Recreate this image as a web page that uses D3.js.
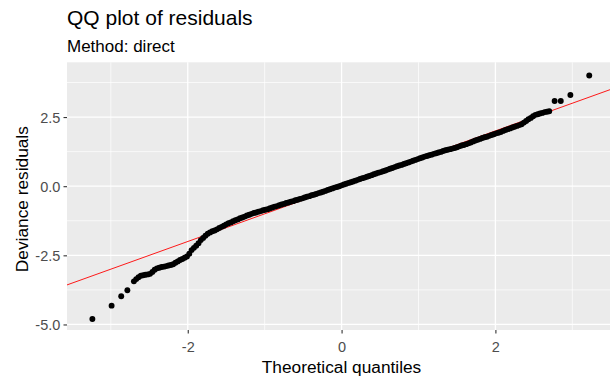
<!DOCTYPE html>
<html>
<head>
<meta charset="utf-8">
<script src="https://cdn.jsdelivr.net/npm/d3@7"></script>
<style>
  body { margin: 0; background: #fff; }
  svg { display: block; font-family: "Liberation Sans", Arial, sans-serif; }
</style>
</head>
<body>
<svg id="chart" width="610" height="383"></svg>
<script>
// Theoretical normal quantiles and the sorted deviance residuals plotted against them
const theoretical = [
  -3.24, -2.99, -2.865, -2.785,
  -2.70, -2.67, -2.64, -2.61, -2.58, -2.55, -2.52, -2.49, -2.46, -2.43,
  -2.40, -2.37, -2.34, -2.31, -2.28, -2.25, -2.22, -2.19, -2.16, -2.13,
  -2.10, -2.07, -2.04, -2.01, -1.98, -1.95, -1.92, -1.89, -1.86, -1.83,
  -1.80, -1.77, -1.74, -1.71, -1.68, -1.65, -1.62, -1.59, -1.56, -1.53,
  -1.50, -1.47, -1.44, -1.41, -1.38, -1.35, -1.32, -1.29, -1.26, -1.23,
  -1.20, -1.17, -1.14, -1.11, -1.08, -1.05, -1.02, -0.99, -0.96, -0.93,
  -0.90, -0.87, -0.84, -0.81, -0.78, -0.75, -0.72, -0.69, -0.66, -0.63,
  -0.60, -0.57, -0.54, -0.51, -0.48, -0.45, -0.42, -0.39, -0.36, -0.33,
  -0.30, -0.27, -0.24, -0.21, -0.18, -0.15, -0.12, -0.09, -0.06, -0.03,
  0.00, 0.03, 0.06, 0.09, 0.12, 0.15, 0.18, 0.21, 0.24, 0.27,
  0.30, 0.33, 0.36, 0.39, 0.42, 0.45, 0.48, 0.51, 0.54, 0.57,
  0.60, 0.63, 0.66, 0.69, 0.72, 0.75, 0.78, 0.81, 0.84, 0.87,
  0.90, 0.93, 0.96, 0.99, 1.02, 1.05, 1.08, 1.11, 1.14, 1.17,
  1.20, 1.23, 1.26, 1.29, 1.32, 1.35, 1.38, 1.41, 1.44, 1.47,
  1.50, 1.53, 1.56, 1.59, 1.62, 1.65, 1.68, 1.71, 1.74, 1.77,
  1.80, 1.83, 1.86, 1.89, 1.92, 1.95, 1.98, 2.01, 2.04, 2.07,
  2.10, 2.13, 2.16, 2.19, 2.22, 2.25, 2.28, 2.31, 2.34, 2.37,
  2.40, 2.43, 2.46, 2.49, 2.52, 2.55, 2.58, 2.61, 2.64, 2.67,
  2.70,
  2.77, 2.85, 2.975, 3.22
];

const residuals = [
  -4.80, -4.32, -3.98, -3.765,
  -3.44, -3.36, -3.29, -3.24, -3.22, -3.20, -3.19, -3.17, -3.10, -3.02,
  -2.97, -2.95, -2.92, -2.91, -2.89, -2.87, -2.85, -2.82, -2.77, -2.72,
  -2.67, -2.63, -2.59, -2.54, -2.44, -2.31, -2.23, -2.15, -2.06, -1.95,
  -1.87, -1.79, -1.72, -1.67, -1.63, -1.60, -1.56, -1.51, -1.47, -1.43,
  -1.38, -1.34, -1.31, -1.27, -1.23, -1.20, -1.16, -1.13, -1.10, -1.06,
  -1.03, -1.00, -0.97, -0.95, -0.92, -0.90, -0.87, -0.85, -0.83, -0.80,
  -0.77, -0.74, -0.72, -0.69, -0.66, -0.64, -0.61, -0.59, -0.56, -0.54,
  -0.51, -0.49, -0.46, -0.44, -0.41, -0.38, -0.36, -0.33, -0.31, -0.28,
  -0.25, -0.23, -0.20, -0.17, -0.14, -0.11, -0.08, -0.05, -0.03, 0.00,
  0.03, 0.06, 0.09, 0.12, 0.14, 0.17, 0.20, 0.23, 0.26, 0.29,
  0.31, 0.34, 0.37, 0.40, 0.43, 0.46, 0.49, 0.51, 0.54, 0.57,
  0.60, 0.63, 0.66, 0.69, 0.72, 0.75, 0.77, 0.80, 0.83, 0.86,
  0.89, 0.92, 0.95, 0.98, 1.01, 1.04, 1.07, 1.09, 1.12, 1.14,
  1.17, 1.19, 1.22, 1.24, 1.27, 1.30, 1.32, 1.34, 1.36, 1.38,
  1.41, 1.44, 1.47, 1.49, 1.52, 1.55, 1.58, 1.62, 1.65, 1.68,
  1.71, 1.74, 1.77, 1.79, 1.82, 1.85, 1.88, 1.91, 1.93, 1.96,
  2.00, 2.03, 2.06, 2.09, 2.12, 2.15, 2.18, 2.21, 2.24, 2.30,
  2.36, 2.42, 2.47, 2.53, 2.58, 2.60, 2.63, 2.65, 2.68, 2.69,
  2.71,
  3.08, 3.08, 3.30, 4.00
];

// Axis breaks
const xTicks = [-2, 0, 2];
const xMinorBreaks = [-3, -1, 1, 3];
const yTicks = [-5.0, -2.5, 0.0, 2.5];
const yMinorBreaks = [-3.75, -1.25, 1.25, 3.75];

// Reference line y = intercept + slope * x
const refIntercept = 0;
const refSlope = 1;

const svg = d3.select("#chart");
const panel = { left: 67, top: 62.3, right: 610, bottom: 330 };

const x = d3.scaleLinear().domain([-3.57, 3.49]).range([panel.left, panel.right]);
const y = d3.scaleLinear().domain([-5.2, 4.48]).range([panel.bottom, panel.top]);

// Panel background
svg.append("rect")
  .attr("x", panel.left).attr("y", panel.top)
  .attr("width", panel.right - panel.left)
  .attr("height", panel.bottom - panel.top)
  .attr("fill", "#EBEBEB");

const grid = svg.append("g");
// minor grid
grid.selectAll(".xmin").data(xMinorBreaks).join("line")
  .attr("x1", d => x(d)).attr("x2", d => x(d))
  .attr("y1", panel.top).attr("y2", panel.bottom)
  .attr("stroke", "#fff").attr("stroke-width", 0.7);
grid.selectAll(".ymin").data(yMinorBreaks).join("line")
  .attr("y1", d => y(d)).attr("y2", d => y(d))
  .attr("x1", panel.left).attr("x2", panel.right)
  .attr("stroke", "#fff").attr("stroke-width", 0.7);
// major grid
grid.selectAll(".xmaj").data(xTicks).join("line")
  .attr("x1", d => x(d)).attr("x2", d => x(d))
  .attr("y1", panel.top).attr("y2", panel.bottom)
  .attr("stroke", "#fff").attr("stroke-width", 1.3);
grid.selectAll(".ymaj").data(yTicks).join("line")
  .attr("y1", d => y(d)).attr("y2", d => y(d))
  .attr("x1", panel.left).attr("x2", panel.right)
  .attr("stroke", "#fff").attr("stroke-width", 1.3);

// Clip marks to the panel
svg.append("clipPath").attr("id", "panel-clip")
  .append("rect")
  .attr("x", panel.left).attr("y", panel.top)
  .attr("width", panel.right - panel.left)
  .attr("height", panel.bottom - panel.top);

const plot = svg.append("g").attr("clip-path", "url(#panel-clip)");

// Reference line across the full x range
const [x0, x1] = x.domain();
plot.append("line")
  .attr("x1", x(x0)).attr("y1", y(refIntercept + refSlope * x0))
  .attr("x2", x(x1)).attr("y2", y(refIntercept + refSlope * x1))
  .attr("stroke", "#FF0000").attr("stroke-width", 0.9);

// Points
const pts = theoretical.map((t, i) => ({ t, r: residuals[i] }));
plot.selectAll("circle").data(pts).join("circle")
  .attr("cx", d => x(d.t)).attr("cy", d => y(d.r))
  .attr("r", 2.95).attr("fill", "#000");

// Axes
const fmtY = d => d.toFixed(1).replace("\u2212", "-");
const yAxis = svg.append("g")
  .attr("transform", `translate(${panel.left},0)`)
  .call(d3.axisLeft(y).tickValues(yTicks).tickFormat(fmtY).tickSize(3.5).tickPadding(3.2));
const xAxis = svg.append("g")
  .attr("transform", `translate(0,${panel.bottom})`)
  .call(d3.axisBottom(x).tickValues(xTicks).tickFormat(d => String(d)).tickSize(3.5).tickPadding(8.5));

[xAxis, yAxis].forEach(g => {
  g.select(".domain").remove();
  g.selectAll(".tick line").attr("stroke", "#333333").attr("stroke-width", 1.1);
  g.selectAll(".tick text")
    .attr("fill", "#4D4D4D")
    .style("font-family", "\"Liberation Sans\", Arial, sans-serif")
    .style("font-size", "14.5px");
});
yAxis.selectAll(".tick text").attr("dy", "0.38em");

// Titles
svg.append("text")
  .attr("x", 67).attr("y", 25)
  .attr("fill", "#000").style("font-size", "21px")
  .text("QQ plot of residuals");
svg.append("text")
  .attr("x", 67).attr("y", 51.7)
  .attr("fill", "#000").style("font-size", "17px")
  .text("Method: direct");

svg.append("text")
  .attr("x", (panel.left + 616) / 2).attr("y", 372.7)
  .attr("text-anchor", "middle")
  .attr("fill", "#000").style("font-size", "17.3px")
  .text("Theoretical quantiles");

svg.append("text")
  .attr("transform", `translate(28.3,${(panel.top + panel.bottom) / 2 + 3}) rotate(-90)`)
  .attr("text-anchor", "middle")
  .attr("fill", "#000").style("font-size", "17.3px")
  .text("Deviance residuals");
</script>
</body>
</html>
